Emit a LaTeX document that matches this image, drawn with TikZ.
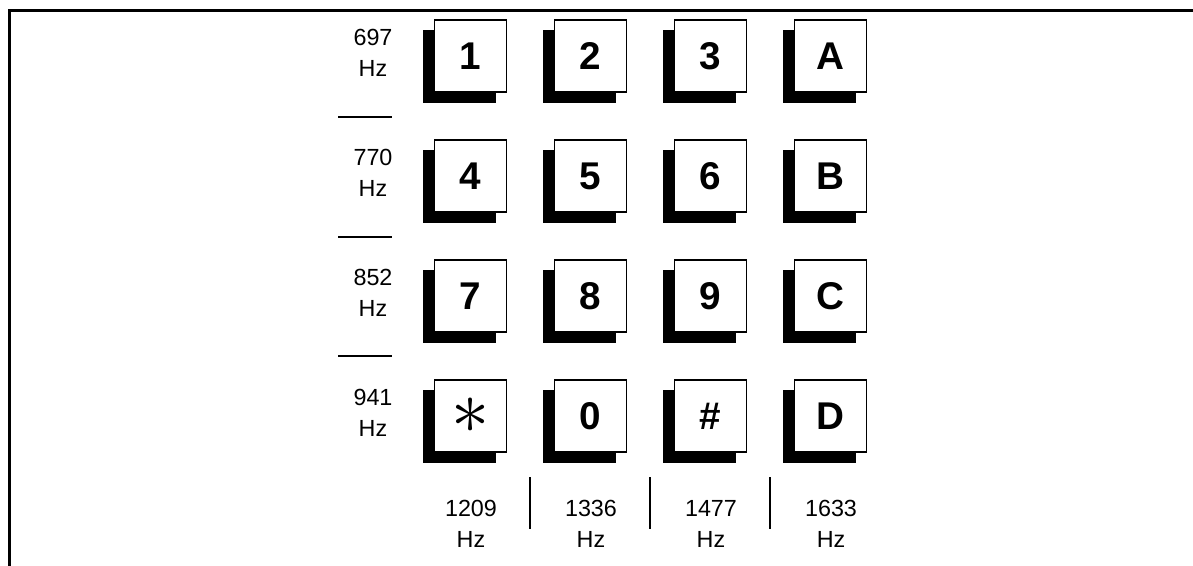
\documentclass[tikz,border=0pt]{standalone}
\usepackage{fontspec}
\setmainfont{Liberation Sans}
\usetikzlibrary{shadows}

\begin{document}
\begin{tikzpicture}[x=0.75pt,y=-0.75pt,
  key/.style={draw=black,line width=1.1pt,fill=white,minimum size=54pt,inner sep=0pt,
    font=\fontsize{29}{29}\selectfont\bfseries,
    copy shadow={shadow xshift=-8.25pt,shadow yshift=-8pt,fill=black,draw=black}},
  freq/.style={align=center,font=\fontsize{17.5}{23}\selectfont},
  sepline/.style={black,line width=1.6pt}]
\useasboundingbox (0,0) rectangle (1193,565);
% frame
\draw[line width=2.25pt,line join=miter] (9,566) -- (9,10) -- (1194,10);
% row 1
\node[key] (k1) at (470.5,56) {1};
\node[key] (k2) at (590.5,56) {2};
\node[key] (k3) at (710.5,56) {3};
\node[key] (kA) at (830.5,56) {A};
% row 2
\node[key] (k4) at (470.5,176) {4};
\node[key] (k5) at (590.5,176) {5};
\node[key] (k6) at (710.5,176) {6};
\node[key] (kB) at (830.5,176) {B};
% row 3
\node[key] (k7) at (470.5,296) {7};
\node[key] (k8) at (590.5,296) {8};
\node[key] (k9) at (710.5,296) {9};
\node[key] (kC) at (830.5,296) {C};
% row 4
\node[key] (kstar) at (470.5,416) {\raisebox{-1.5pt}{\scalebox{2.3}{$\ast$}}};
\node[key] (k0) at (590.5,416) {0};
\node[key] (khash) at (710.5,416) {\#};
\node[key] (kD) at (830.5,416) {D};
% row frequencies
\node[freq] (r1) at (373,53) {697\\Hz};
\node[freq] (r2) at (373,173) {770\\Hz};
\node[freq] (r3) at (373,293) {852\\Hz};
\node[freq] (r4) at (373,413) {941\\Hz};
\draw[sepline] (338,117) -- (392,117);
\draw[sepline] (338,237) -- (392,237);
\draw[sepline] (338,356) -- (392,356);
% column frequencies
\node[freq] (c1) at (471,524) {1209\\Hz};
\node[freq] (c2) at (591,524) {1336\\Hz};
\node[freq] (c3) at (711,524) {1477\\Hz};
\node[freq] (c4) at (831,524) {1633\\Hz};
\draw[sepline] (530,477) -- (530,529);
\draw[sepline] (650,477) -- (650,529);
\draw[sepline] (770,477) -- (770,529);
\end{tikzpicture}
\end{document}
